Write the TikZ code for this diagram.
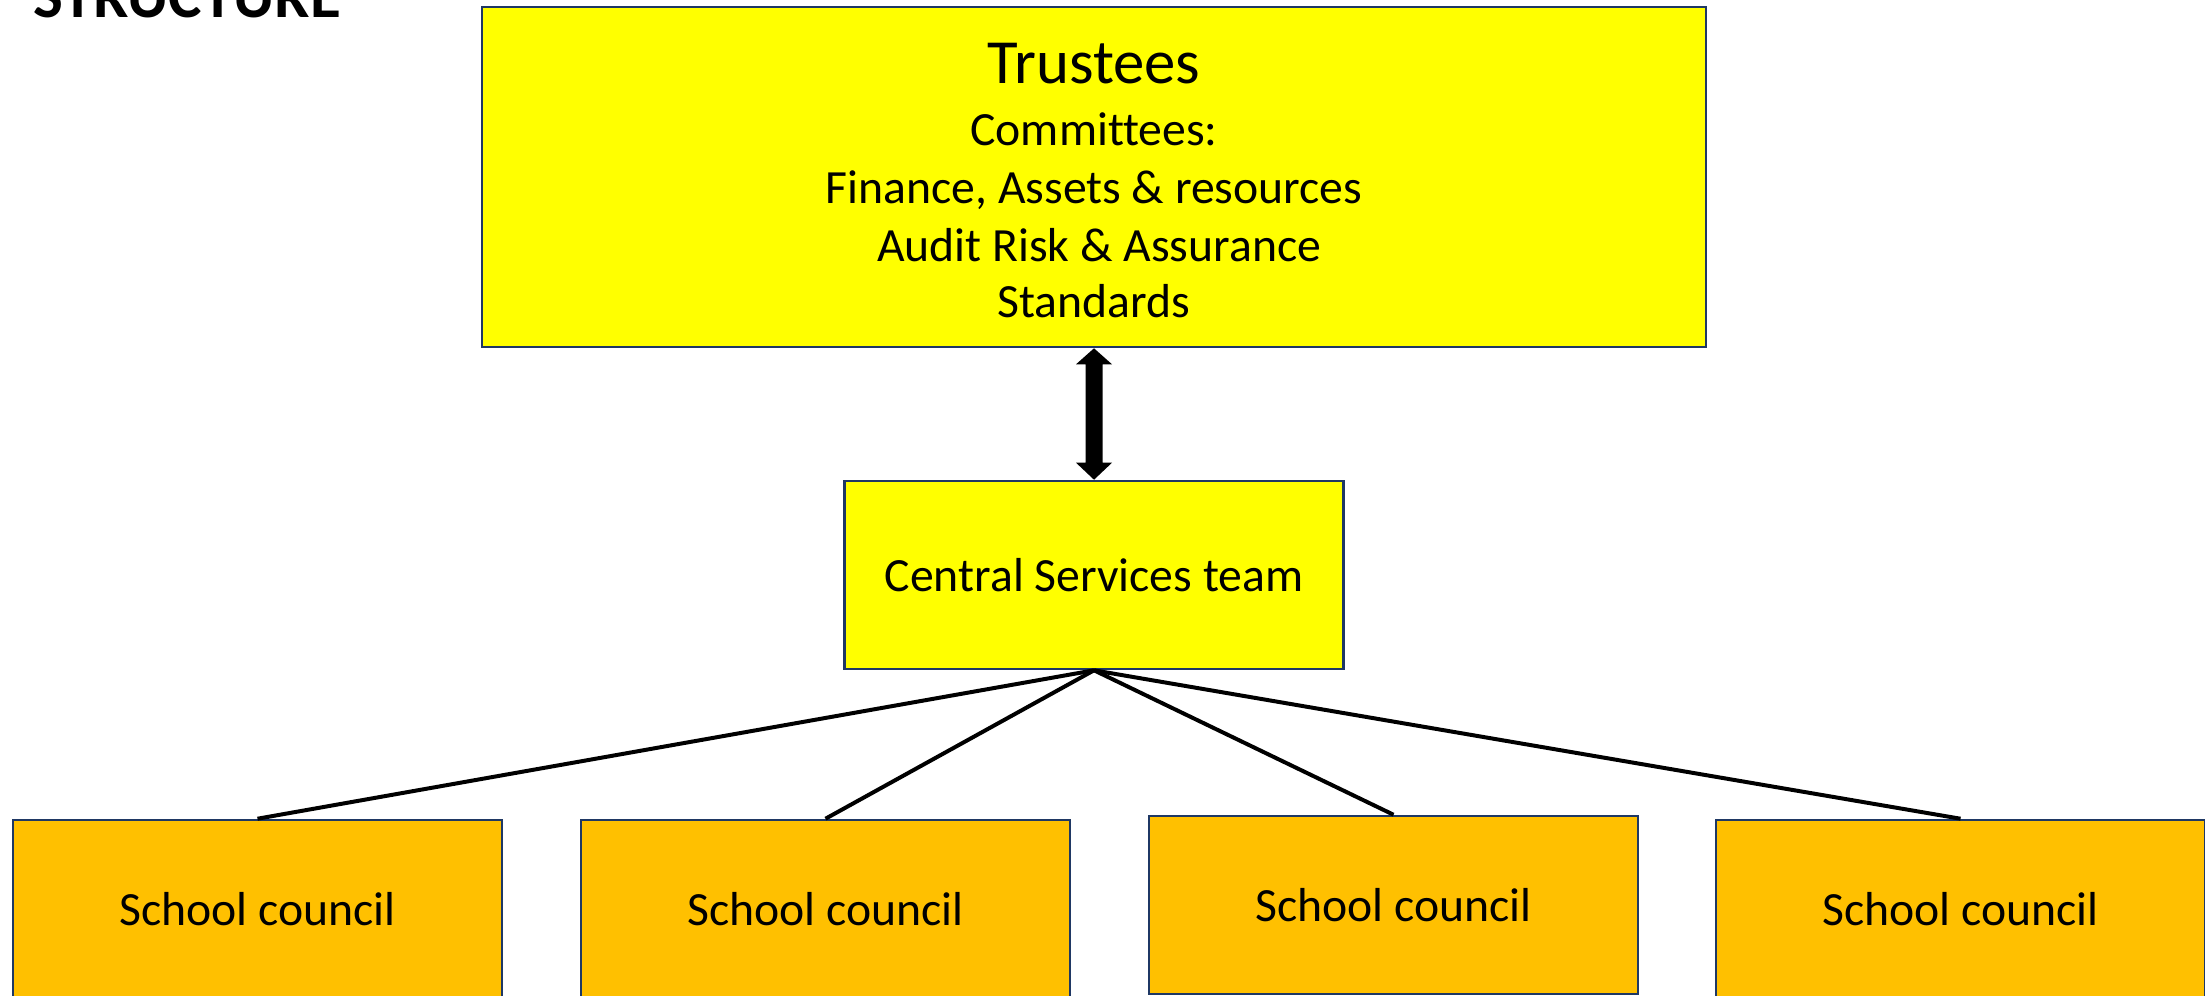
\documentclass[tikz,border=0pt]{standalone}
\usepackage{fontspec}
\setmainfont[Ligatures=NoCommon]{Carlito}
\usetikzlibrary{calc}
\definecolor{boxyellow}{HTML}{FFFF00}
\definecolor{boxorange}{HTML}{FFC000}
\definecolor{boxborder}{HTML}{1F3864}
\tikzset{
  topbox/.style={draw=boxborder, line width=2.2pt, fill=boxyellow, inner sep=0pt, align=center},
  schoolbox/.style={draw=boxborder, line width=2.2pt, fill=boxorange, inner sep=0pt,
     minimum width=489*0.3mm, minimum height=178*0.3mm, font=\fontsize{40.7}{49}\selectfont},
  bodytext/.style={anchor=base, inner sep=0pt, font=\fontsize{40.7}{49}\selectfont},
  link/.style={line width=3.4pt, black},
}
\begin{document}
\begin{tikzpicture}[x=0.3mm, y=-0.3mm]
\useasboundingbox (0,0) rectangle (2205,995);
\node[anchor=base west, inner sep=0pt, font=\fontsize{53.8}{60}\selectfont\bfseries] (title) at (33,17) {STRUCTURE};
\node[topbox, minimum width=1224*0.3mm, minimum height=340*0.3mm] (tr) at (1094,177) {};
\node[anchor=base, inner sep=0pt, font=\fontsize{53.6}{60}\selectfont] (trname) at (1094,83) {Trustees};
\node[bodytext] (com) at (1094,145) {Committees:};
\node[bodytext] (fin) at (1094,203) {Finance, Assets \& resources};
\node[bodytext] (aud) at (1099,261) {Audit Risk \& Assurance};
\node[bodytext] (std) at (1094,317) {Standards};
\node[topbox, minimum width=499*0.3mm, minimum height=188*0.3mm, font=\fontsize{40.7}{49}\selectfont] (cs) at (1094,575) {Central Services team};
\node[schoolbox] (s1) at (257.5,909) {School council};
\node[schoolbox] (s2) at (825.5,909) {School council};
\node[schoolbox] (s3) at (1393.5,905) {School council};
\node[schoolbox] (s4) at (1960.5,909) {School council};
\fill[black] (tr.south) -- ($(tr.south)+(18,16)$) -- ($(tr.south)+(8.5,16)$) -- ($(cs.north)+(8.5,-17)$) -- ($(cs.north)+(18,-17)$) -- (cs.north) -- ($(cs.north)+(-18,-17)$) -- ($(cs.north)+(-8.5,-17)$) -- ($(tr.south)+(-8.5,16)$) -- ($(tr.south)+(-18,16)$) -- cycle;
\foreach \s in {s1,s2,s3,s4} \draw[link] (cs.south) -- (\s.north);
\end{tikzpicture}
\end{document}
